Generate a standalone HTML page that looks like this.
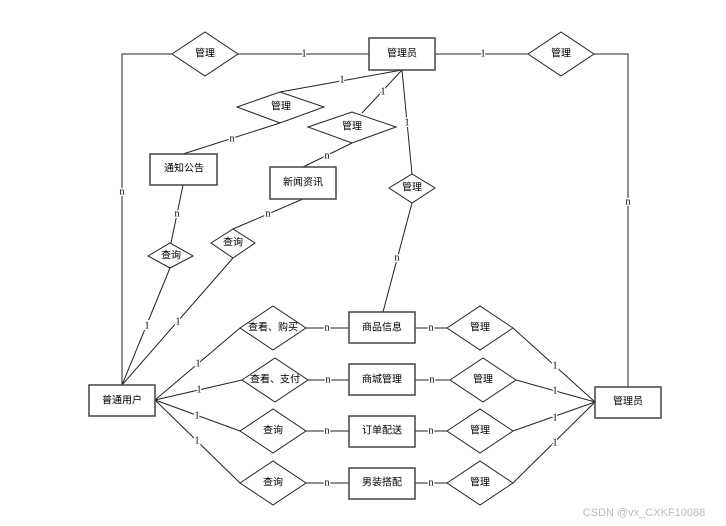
<!DOCTYPE html>
<html><head><meta charset="utf-8"><style>
html,body{margin:0;padding:0;background:#fff;}
svg{display:block;}
text{font-family:"Liberation Sans","Noto Sans CJK SC",sans-serif;font-size:10px;fill:#000;text-anchor:middle;dominant-baseline:central;}
.l{font-family:"Liberation Serif",serif;font-size:10px;stroke:#fff;stroke-width:3px;paint-order:stroke;}
</style></head><body>
<svg width="726" height="526" viewBox="0 0 726 526" xmlns="http://www.w3.org/2000/svg">
<g stroke="#222" stroke-width="1" fill="none">
<polyline points="172,54 122,54 122,385"/>
<line x1="238" y1="54" x2="369" y2="54"/>
<line x1="435" y1="54" x2="528" y2="54"/>
<polyline points="594,54 628,54 628,387"/>
<line x1="402" y1="70" x2="280" y2="92"/>
<line x1="280" y1="123" x2="183" y2="154"/>
<line x1="402" y1="70" x2="362" y2="113"/>
<line x1="352" y1="143" x2="303" y2="167"/>
<line x1="402" y1="70" x2="412" y2="174"/>
<line x1="412" y1="203" x2="383" y2="312"/>
<line x1="183" y1="185" x2="171" y2="243"/>
<line x1="170" y1="268" x2="122" y2="385"/>
<line x1="303" y1="199" x2="233" y2="229"/>
<line x1="233" y1="258" x2="122" y2="385"/>
<line x1="155" y1="400" x2="240" y2="328"/>
<line x1="155" y1="400" x2="242" y2="380"/>
<line x1="155" y1="400" x2="240" y2="431"/>
<line x1="155" y1="400" x2="240" y2="483"/>
<line x1="306" y1="328" x2="349" y2="328"/>
<line x1="308" y1="380" x2="349" y2="380"/>
<line x1="306" y1="431" x2="349" y2="431"/>
<line x1="306" y1="483" x2="349" y2="483"/>
<line x1="415" y1="328" x2="447" y2="328"/>
<line x1="415" y1="380" x2="450" y2="380"/>
<line x1="415" y1="431" x2="447" y2="431"/>
<line x1="415" y1="483" x2="447" y2="483"/>
<line x1="513" y1="328" x2="595" y2="402"/>
<line x1="516" y1="380" x2="595" y2="402"/>
<line x1="513" y1="431" x2="595" y2="402"/>
<line x1="513" y1="483" x2="595" y2="402"/>
</g>
<g stroke="#222" stroke-width="1" fill="#fff">
<polygon points="172,54 205,32 238,54 205,76"/>
<polygon points="528,54 561,32 594,54 561,76"/>
<polygon points="237,107 280,92 324,107 280,123"/>
<polygon points="308,127 352,112 396,127 352,143"/>
<polygon points="389,188 412,174 435,188 412,203"/>
<polygon points="148,256 170,243 193,256 170,268"/>
<polygon points="211,243 233,229 255,243 233,258"/>
<polygon points="240,328 273,306 306,328 273,350"/>
<polygon points="242,380 275,358 308,380 275,402"/>
<polygon points="240,431 273,409 306,431 273,453"/>
<polygon points="240,483 273,461 306,483 273,505"/>
<polygon points="447,328 480,306 513,328 480,350"/>
<polygon points="450,380 483,358 516,380 483,402"/>
<polygon points="447,431 480,409 513,431 480,453"/>
<polygon points="447,483 480,461 513,483 480,505"/>
</g>
<g stroke="#444" stroke-width="1.5" fill="#fff">
<rect x="369" y="38" width="66" height="32"/>
<rect x="150" y="154" width="67" height="31"/>
<rect x="270" y="167" width="66" height="32"/>
<rect x="349" y="312" width="66" height="31"/>
<rect x="349" y="364" width="66" height="31"/>
<rect x="349" y="416" width="66" height="31"/>
<rect x="349" y="468" width="66" height="31"/>
<rect x="89" y="385" width="66" height="31"/>
<rect x="595" y="387" width="66" height="31"/>
</g>
<text x="402" y="54">管理员</text>
<text x="205" y="54">管理</text>
<text x="561" y="54">管理</text>
<text x="281" y="107">管理</text>
<text x="352" y="127">管理</text>
<text x="412" y="188">管理</text>
<text x="184" y="169">通知公告</text>
<text x="303" y="183">新闻资讯</text>
<text x="171" y="256">查询</text>
<text x="233" y="243">查询</text>
<text x="273" y="328">查看、购买</text>
<text x="275" y="380">查看、支付</text>
<text x="273" y="431">查询</text>
<text x="273" y="483">查询</text>
<text x="382" y="328">商品信息</text>
<text x="382" y="380">商城管理</text>
<text x="382" y="431">订单配送</text>
<text x="382" y="483">男装搭配</text>
<text x="480" y="328">管理</text>
<text x="483" y="380">管理</text>
<text x="480" y="431">管理</text>
<text x="480" y="483">管理</text>
<text x="122" y="401">普通用户</text>
<text x="628" y="402">管理员</text>
<text class="l" x="304" y="54">1</text>
<text class="l" x="483" y="54">1</text>
<text class="l" x="122" y="192">n</text>
<text class="l" x="628" y="202">n</text>
<text class="l" x="342" y="80">1</text>
<text class="l" x="232" y="139">n</text>
<text class="l" x="383" y="92">1</text>
<text class="l" x="327" y="156">n</text>
<text class="l" x="407" y="123">1</text>
<text class="l" x="397" y="258">n</text>
<text class="l" x="177" y="214">n</text>
<text class="l" x="268" y="214">n</text>
<text class="l" x="147" y="326">1</text>
<text class="l" x="178" y="322">1</text>
<text class="l" x="198" y="364">1</text>
<text class="l" x="199" y="390">1</text>
<text class="l" x="197" y="416">1</text>
<text class="l" x="197" y="441">1</text>
<text class="l" x="327" y="328">n</text>
<text class="l" x="328" y="380">n</text>
<text class="l" x="327" y="431">n</text>
<text class="l" x="327" y="483">n</text>
<text class="l" x="431" y="328">n</text>
<text class="l" x="432" y="380">n</text>
<text class="l" x="431" y="431">n</text>
<text class="l" x="431" y="483">n</text>
<text class="l" x="555" y="366">1</text>
<text class="l" x="555" y="391">1</text>
<text class="l" x="555" y="418">1</text>
<text class="l" x="555" y="443">1</text>
<text x="644" y="513" style="font-size:11px;fill:#bbb">CSDN @vx_CXKF10088</text>
</svg>
</body></html>
